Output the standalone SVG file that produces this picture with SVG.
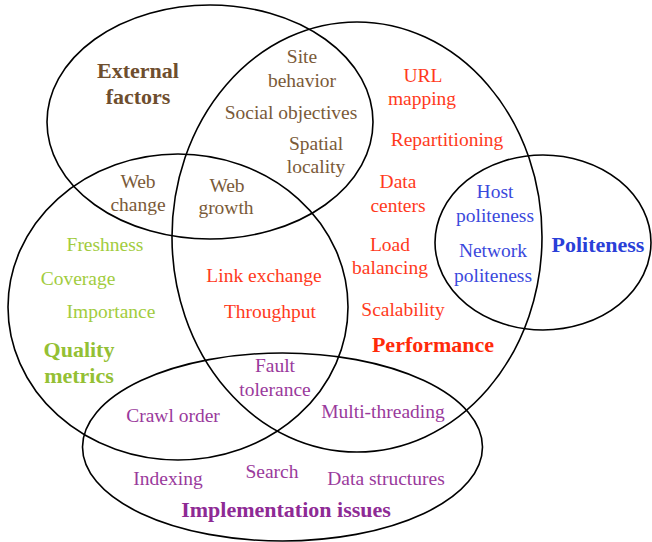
<svg xmlns="http://www.w3.org/2000/svg" width="652" height="542" viewBox="0 0 652 542">
<style>
.e{fill:none;stroke:#000;stroke-width:1.6}
text{font-family:"Liberation Serif","Times New Roman",serif;font-size:19.5px;text-anchor:middle}
.t{font-weight:bold;font-size:22px}
.br{fill:#7a5a38}.brt{fill:#6e4e2e}
.rd{fill:#ff3a1c}.rdt{fill:#ff2a0a}
.bl{fill:#3a48dc}.blt{fill:#2a3fd8}
.gr{fill:#a2cc3e}.grt{fill:#94c034}
.pu{fill:#9a3a9c}.put{fill:#8e2a95}
</style>
<rect width="652" height="542" fill="#fff"/>
<g id="ellipses">
<ellipse id="external" class="e" cx="210" cy="122" rx="163" ry="117"/>
<ellipse id="performance" class="e" cx="357" cy="237" rx="185" ry="215"/>
<ellipse id="quality" class="e" cx="178" cy="307" rx="170" ry="153"/>
<ellipse id="politeness" class="e" cx="543" cy="242.5" rx="108" ry="87.5"/>
<ellipse id="implementation" class="e" cx="282.5" cy="447" rx="200" ry="94"/>
</g>
<g id="external-factors">
<text class="t brt" x="138" y="78">External</text>
<text class="t brt" x="138" y="104">factors</text>
<text class="br" x="302" y="63">Site</text>
<text class="br" x="302" y="87">behavior</text>
<text class="br" x="291" y="119">Social objectives</text>
<text class="br" x="316" y="150">Spatial</text>
<text class="br" x="316" y="173">locality</text>
<text class="br" x="138" y="188">Web</text>
<text class="br" x="138" y="211">change</text>
<text class="br" x="227" y="192">Web</text>
<text class="br" x="226" y="214">growth</text>
</g>
<g id="performance-labels">
<text class="rd" x="423" y="82">URL</text>
<text class="rd" x="422" y="105">mapping</text>
<text class="rd" x="447" y="146">Repartitioning</text>
<text class="rd" x="398" y="188">Data</text>
<text class="rd" x="398" y="212">centers</text>
<text class="rd" x="390" y="251">Load</text>
<text class="rd" x="390" y="274">balancing</text>
<text class="rd" x="403" y="316">Scalability</text>
<text class="t rdt" x="433" y="352">Performance</text>
<text class="rd" x="264" y="282">Link exchange</text>
<text class="rd" x="270" y="318">Throughput</text>
</g>
<g id="politeness-labels">
<text class="bl" x="495" y="198">Host</text>
<text class="bl" x="495" y="222">politeness</text>
<text class="bl" x="493" y="257">Network</text>
<text class="bl" x="493" y="282">politeness</text>
<text class="t blt" x="598" y="252">Politeness</text>
</g>
<g id="quality-labels">
<text class="gr" x="105" y="251">Freshness</text>
<text class="gr" x="78" y="285">Coverage</text>
<text class="gr" x="111" y="318">Importance</text>
<text class="t grt" x="79" y="357">Quality</text>
<text class="t grt" x="79" y="383">metrics</text>
</g>
<g id="implementation-labels">
<text class="pu" x="275" y="372">Fault</text>
<text class="pu" x="275" y="396">tolerance</text>
<text class="pu" x="173" y="422">Crawl order</text>
<text class="pu" x="383" y="418">Multi-threading</text>
<text class="pu" x="168" y="485">Indexing</text>
<text class="pu" x="272" y="478">Search</text>
<text class="pu" x="386" y="485">Data structures</text>
<text class="t put" x="286" y="517">Implementation issues</text>
</g>
</svg>
